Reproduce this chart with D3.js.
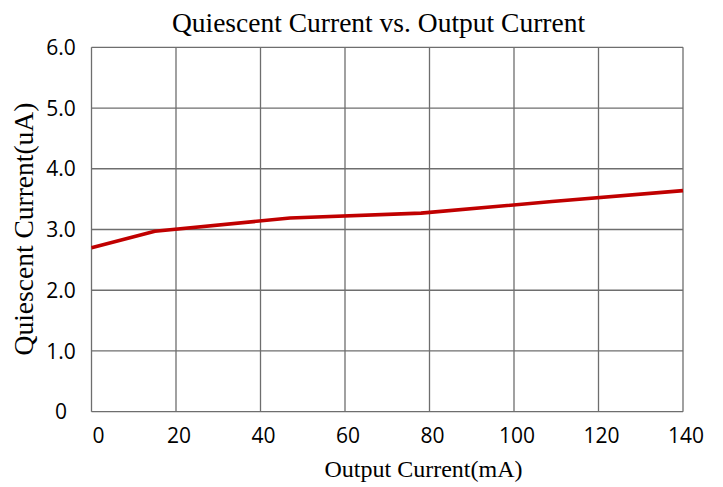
<!DOCTYPE html>
<html>
<head>
<meta charset="utf-8">
<script src="https://cdn.jsdelivr.net/npm/d3@7"></script>
<style>
  html, body { margin: 0; padding: 0; background: #fff; }
  svg { display: block; }
</style>
</head>
<body>
<script>
// ---- data ----
const outputCurrent = [0, 15, 47, 78, 109, 140];           // mA
const quiescentCurrent = [2.70, 2.97, 3.19, 3.27, 3.46, 3.64]; // uA
const xTicks = [0, 20, 40, 60, 80, 100, 120, 140];
const yTicks = [0, 1, 2, 3, 4, 5, 6];
const yTickLabels = ["0", "1.0", "2.0", "3.0", "4.0", "5.0", "6.0"];
const titleText = "Quiescent Current vs. Output Current";
const xTitle = "Output Current(mA)";
const yTitle = "Quiescent Current(uA)";

const W = 723, H = 487;
const svg = d3.select("body").append("svg").attr("width", W).attr("height", H);

const x = d3.scaleLinear().domain([0, 140]).range([91.5, 683]);
const y = d3.scaleLinear().domain([0, 6]).range([411.7, 47.3]);

const gridColor = "#6e6e6e";

// vertical gridlines
svg.append("g").selectAll("line").data(xTicks).join("line")
  .attr("x1", d => x(d)).attr("x2", d => x(d))
  .attr("y1", y(0)).attr("y2", y(6))
  .attr("stroke", gridColor).attr("stroke-width", 1.3);

// horizontal gridlines
svg.append("g").selectAll("line").data(yTicks).join("line")
  .attr("x1", x(0)).attr("x2", x(140))
  .attr("y1", d => y(d)).attr("y2", d => y(d))
  .attr("stroke", gridColor).attr("stroke-width", 1.3);

// y tick labels
svg.append("g").selectAll("text").data(yTicks).join("text")
  .attr("x", 61).attr("y", d => y(d))
  .attr("dy", "0.36em")
  .attr("text-anchor", "middle")
  .attr("font-family", "'Open Sans', sans-serif")
  .attr("font-size", 21)
  .attr("fill", "#000")
  .text((d, i) => yTickLabels[i]);

// x tick labels
svg.append("g").selectAll("text").data(xTicks).join("text")
  .attr("x", (d, i) => x(d) + (i === 0 ? 7 : 3)).attr("y", 443)
  .attr("text-anchor", "middle")
  .attr("font-family", "'Open Sans', sans-serif")
  .attr("font-size", 21)
  .attr("fill", "#000")
  .text(d => d);

// line
const line = d3.line().x(d => x(d[0])).y(d => y(d[1]));
svg.append("path")
  .datum(outputCurrent.map((v, i) => [v, quiescentCurrent[i]]))
  .attr("d", line)
  .attr("fill", "none")
  .attr("stroke", "#C00000")
  .attr("stroke-width", 3.6)
  .attr("stroke-linejoin", "round");

// title
svg.append("text")
  .attr("x", 378.5).attr("y", 32)
  .attr("text-anchor", "middle")
  .attr("font-family", "'Liberation Serif', 'Times New Roman', serif")
  .attr("font-size", 27.5)
  .attr("fill", "#000")
  .text(titleText);

// x axis title
svg.append("text")
  .attr("x", 423.5).attr("y", 477)
  .attr("text-anchor", "middle")
  .attr("font-family", "'Liberation Serif', 'Times New Roman', serif")
  .attr("font-size", 24)
  .attr("fill", "#000")
  .text(xTitle);

// y axis title
svg.append("text")
  .attr("transform", "translate(33," + 229 + ") rotate(-90)")
  .attr("text-anchor", "middle")
  .attr("font-family", "'Liberation Serif', 'Times New Roman', serif")
  .attr("font-size", 27.5)
  .attr("fill", "#000")
  .text(yTitle);
</script>
</body>
</html>
